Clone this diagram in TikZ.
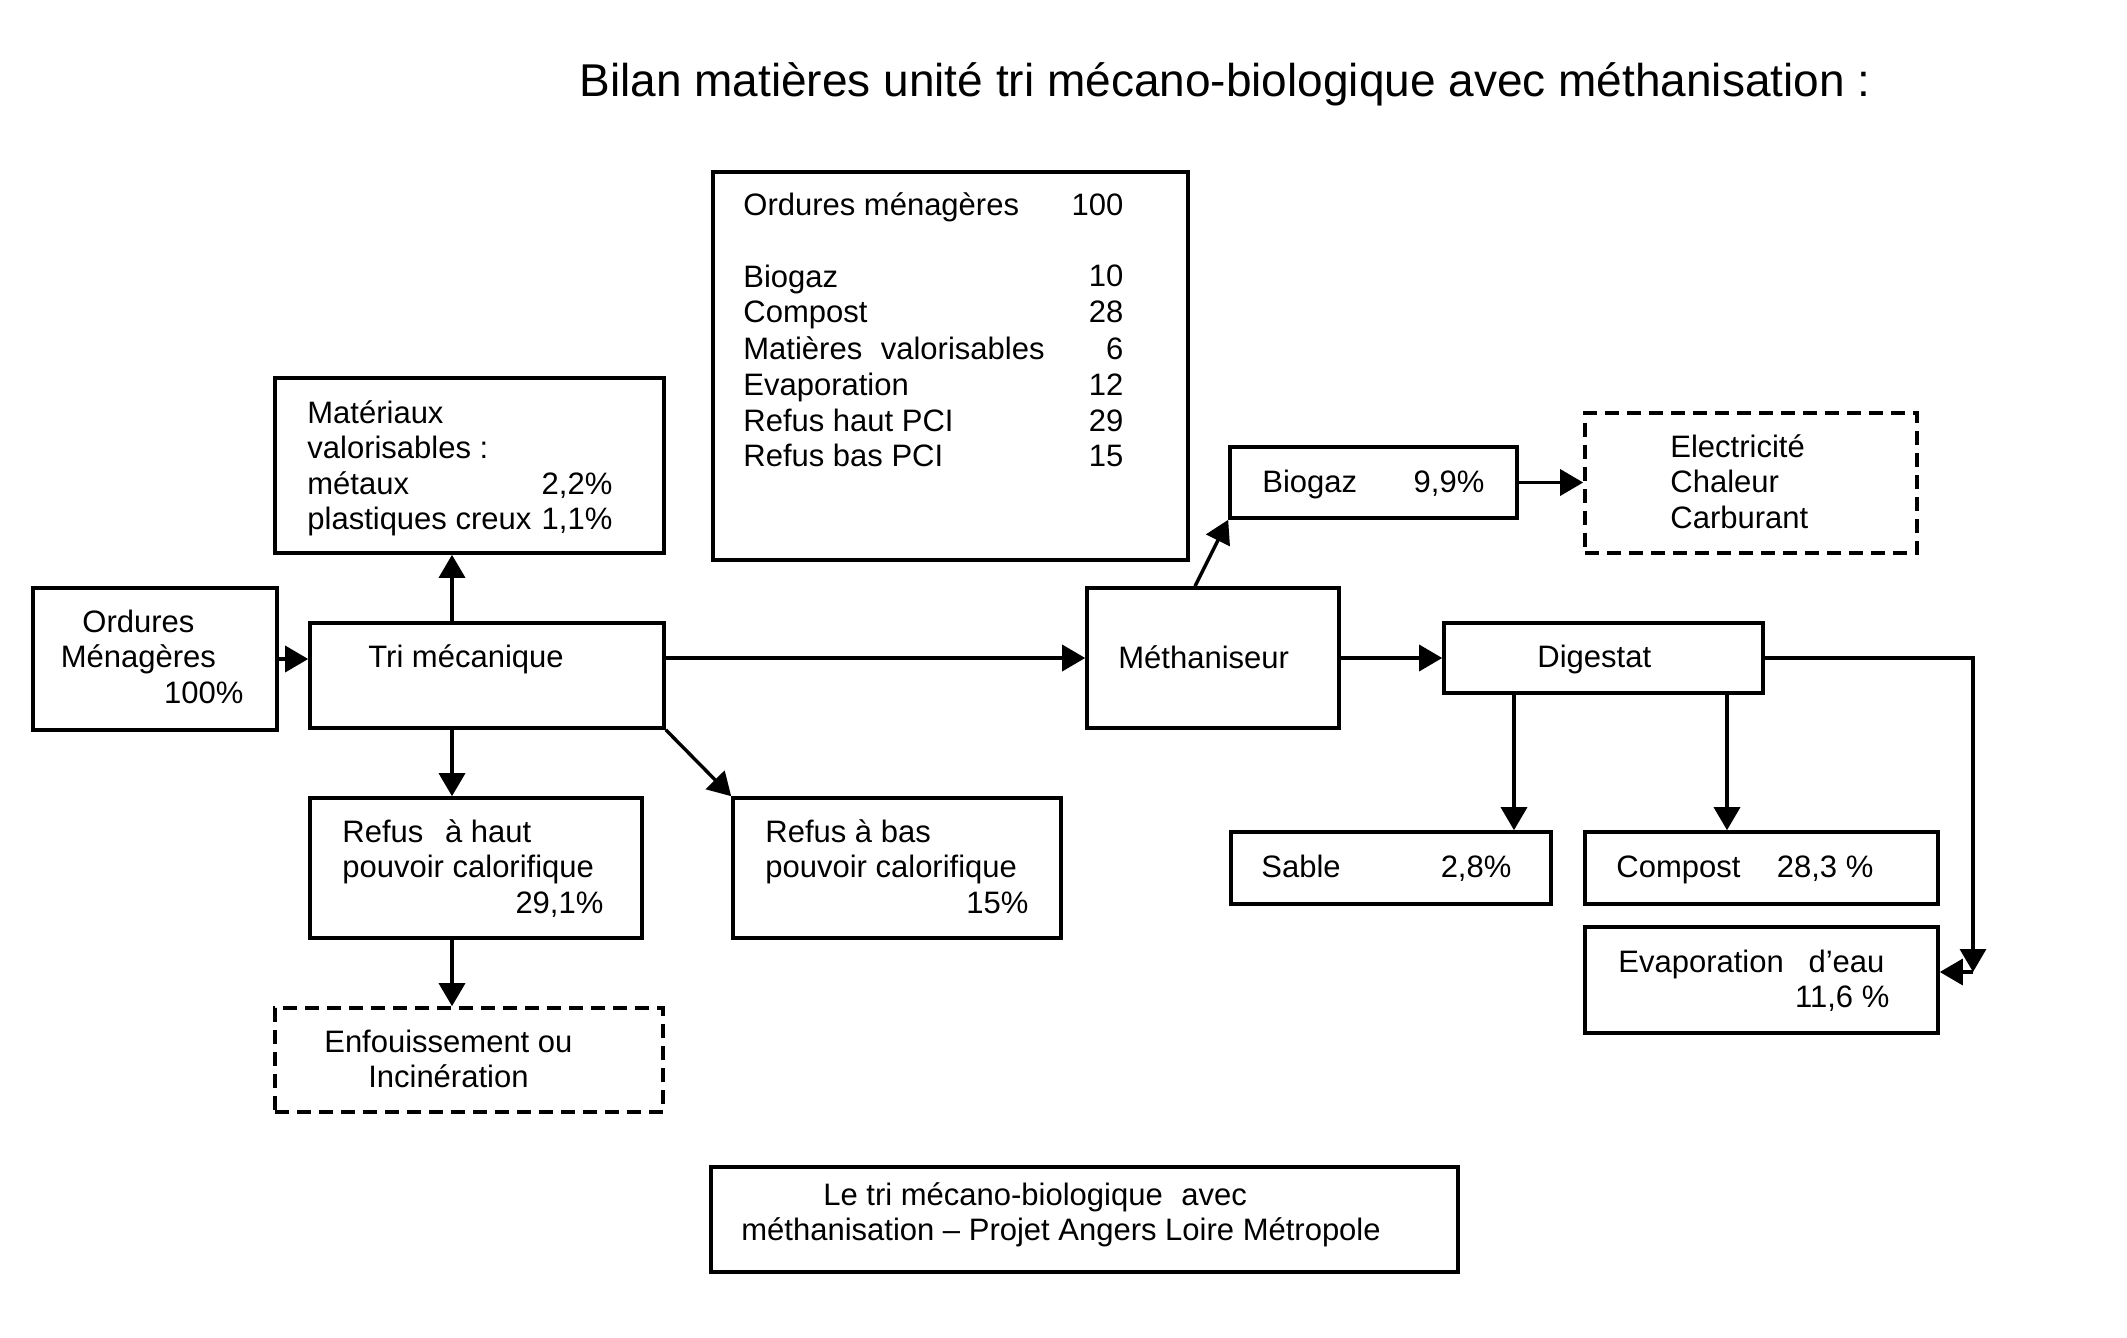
\documentclass[tikz,border=0pt]{standalone}
\usepackage{fontspec}
\setmainfont{Liberation Sans}
\usetikzlibrary{arrows.meta,fit,calc}
\tikzset{
  box/.style={draw, line width=1.8pt, inner sep=0pt},
  dbox/.style={box, dash pattern=on 7pt off 4pt},
  txt/.style={anchor=base west, inner sep=0pt, font=\fontsize{15.5}{17.75}\selectfont},
  arr/.style={line width=1.7pt, -{Triangle[length=11.5pt,width=13pt]}},
}
\newcommand\rowlr[3]{\hbox to #1{#2\hfill #3}}
\begin{document}
\begin{tikzpicture}[x=0.5pt,y=-0.5pt]
\path[use as bounding box, fill=white] (0,0) rectangle (2127,1338);

% title
\node[txt, font=\fontsize{23}{27}\selectfont] (title) at (579,97) {Bilan matières unité tri mécano-biologique avec méthanisation :};

% boxes
\node[box, fit={(33,588) (277,730)}] (om) {};
\node[box, fit={(275,378) (664,553)}] (mat) {};
\node[box, fit={(310,623) (664,728)}] (tri) {};
\node[box, fit={(713,172) (1188,560)}] (tab) {};
\node[box, fit={(310,798) (642,938)}] (rh) {};
\node[box, fit={(733,798) (1061,938)}] (rb) {};
\node[dbox, fit={(275,1008) (663,1112)}] (enf) {};
\node[box, fit={(1087,588) (1339,728)}] (meth) {};
\node[box, fit={(1230,447) (1517,518)}] (bio) {};
\node[dbox, fit={(1585,413) (1917,553)}] (elec) {};
\node[box, fit={(1444,623) (1763,693)}] (dig) {};
\node[box, fit={(1231,832) (1551,904)}] (sab) {};
\node[box, fit={(1585,832) (1938,904)}] (comp) {};
\node[box, fit={(1585,927) (1938,1033)}] (evap) {};
\node[box, fit={(711,1167) (1458,1272)}] (cap) {};

% texts
\node[txt] (omT) at (33,632) {\vtop{\hbox to 105pt{\hfil Ordures\hfil}\hbox to 105pt{\hfil Ménagères\hfil}\hbox to 105pt{\hfill 100\%}}};
\node[txt] (matT) at (307,423) {\vtop{\hbox{Matériaux}\hbox{valorisables :}\rowlr{152.5pt}{métaux}{2,2\%}\rowlr{152.5pt}{plastiques creux}{1,1\%}}};
\node[txt] (triT) at (368,667) {Tri mécanique};
\node[txt, font=\fontsize{15.5}{18}\selectfont] (tabT) at (743,215) {\vtop{%
  \rowlr{190pt}{Ordures ménagères}{100}\hbox{}%
  \rowlr{190pt}{Biogaz}{10}%
  \rowlr{190pt}{Compost}{28}%
  \rowlr{190pt}{Matières\hspace{0.6em}valorisables}{6}%
  \rowlr{190pt}{Evaporation}{12}%
  \rowlr{190pt}{Refus haut PCI}{29}%
  \rowlr{190pt}{Refus bas PCI}{15}}};
\node[txt] (rhT) at (342,842) {\vtop{\hbox{Refus\hspace{0.7em}à haut}\hbox{pouvoir calorifique}\hbox to 130.5pt{\hfill 29,1\%}}};
\node[txt] (rbT) at (765,842) {\vtop{\hbox{Refus à bas}\hbox{pouvoir calorifique}\hbox to 131.5pt{\hfill 15\%}}};
\node[txt] (enfT) at (298,1052) {\vtop{\hbox to 150pt{\hfil Enfouissement ou\hfil}\hbox to 150pt{\hfil Incinération\hfil}}};
\node[txt] (methT) at (1118,668) {Méthaniseur};
\node[txt] (bioT) at (1262,492) {\rowlr{111pt}{Biogaz}{9,9\%}};
\node[txt] (elecT) at (1670,457) {\vtop{\hbox{Electricité}\hbox{Chaleur}\hbox{Carburant}}};
\node[txt] (digT) at (1537,667) {Digestat};
\node[txt] (sabT) at (1261,877) {\rowlr{125pt}{Sable}{2,8\%}};
\node[txt] (compT) at (1616,877) {\rowlr{128.5pt}{Compost}{28,3 \%}};
\node[txt] (evapT) at (1618,972) {\vtop{\hbox{Evaporation\hspace{0.8em}d’eau}\hbox to 135.5pt{\hfill 11,6 \%}}};
\node[txt] (capT) at (741,1205) {\vtop{\hbox{\hspace{41pt}Le tri mécano-biologique\hspace{0.6em}avec}\hbox{méthanisation – Projet Angers Loire Métropole}}};

% connectors
\coordinate (ax) at (452,0);
\coordinate (bx) at (1195,0);
\coordinate (sx) at (1514,0);
\coordinate (cx) at (1727,0);
\coordinate (rc) at (1973,972);
\draw[arr] (om.east) -- (om.east -| tri.west);
\draw[arr] (tri.north -| ax) -- (mat.south -| ax);
\draw[arr] (tri.south -| ax) -- (rh.north -| ax);
\draw[arr] (rh.south -| ax) -- (enf.north -| ax);
\draw[arr] (tri.south east) -- (rb.north west);
\draw[arr] (tri.east |- meth.west) -- (meth.west);
\draw[arr] (meth.north -| bx) -- (bio.south west);
\draw[arr] (bio.east) -- (bio.east -| elec.west);
\draw[arr] (meth.east) -- (dig.west);
\draw[arr] (dig.south -| sx) -- (sab.north -| sx);
\draw[arr] (dig.south -| cx) -- (comp.north -| cx);
\draw[arr] (dig.east) -| (rc);
\draw[arr] (rc) -- (rc -| evap.east);
\end{tikzpicture}
\end{document}
